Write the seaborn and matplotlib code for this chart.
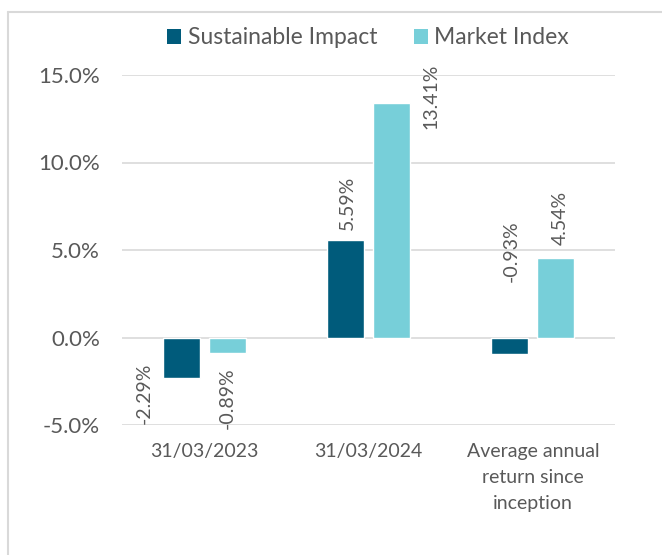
import pandas as pd
import matplotlib
matplotlib.use("Agg")
import matplotlib.pyplot as plt
from matplotlib.lines import Line2D
from matplotlib.patches import Patch
import seaborn as sns

## data
categories = ["31/03/2023", "31/03/2024", "Average annual\nreturn since\ninception"]
sustainable_impact = [-2.29, 5.59, -0.93]
market_index = [-0.89, 13.41, 4.54]
series_names = ["Sustainable Impact", "Market Index"]

## styling
colors = ["#005B7B", "#77CFD9"]
text_gray = "#595959"
grid_gray = "#D9D9D9"
# label offsets (pixels) from the bar end, per series then category
label_offsets = [[(-37, -16), (2, 37), (1, 103)],
                 [(0, -45), (39, 7), (4, 40)]]

sns.set_style("white")
plt.rcParams["font.family"] = ["Lato", "DejaVu Sans"]

df = pd.DataFrame({
    "category": categories * 2,
    "series": [series_names[0]] * 3 + [series_names[1]] * 3,
    "value": sustainable_impact + market_index,
})

fig = plt.figure(figsize=(6.62, 5.55), dpi=100)
ax = fig.add_axes([122 / 662, 1 - 425 / 555, 493 / 662, 350 / 555])

sns.barplot(data=df, x="category", y="value", hue="series", palette=colors,
            width=0.56, gap=0.2, ax=ax, legend=False, saturation=1)

ax.set_ylim(-5, 15)
ax.set_yticks([-5, 0, 5, 10, 15])
ax.set_yticklabels([f"{v:.1f}%" for v in ax.get_yticks()])
ax.yaxis.grid(True, color=grid_gray, linewidth=1.2)
ax.set_axisbelow(True)
for s in ax.spines.values():
    s.set_visible(False)
ax.tick_params(axis="both", length=0, colors=text_gray)
ax.tick_params(axis="y", labelsize=16, pad=16)
ax.tick_params(axis="x", labelsize=14, pad=13)
for lbl in ax.get_xticklabels():
    lbl.set_linespacing(1.65)
    lbl.set_verticalalignment("top")
ax.set_xlabel("")
ax.set_ylabel("")

# rotated data labels
for i, container in enumerate(ax.containers):
    for j, bar in enumerate(container):
        val = bar.get_height()
        xc = bar.get_x() + bar.get_width() / 2
        dx, dy = label_offsets[i][j]
        ax.annotate(f"{val:.2f}%", (xc, val), xytext=(dx, dy),
                    textcoords="offset pixels", rotation=90,
                    ha="center", va="center", color=text_gray, fontsize=14)

# legend
handles = [Patch(facecolor=c, edgecolor="none") for c in colors]
fig.legend(handles, series_names, loc="center", ncol=2, frameon=False,
           bbox_to_anchor=(368 / 662, 1 - 38 / 555), fontsize=16.5,
           labelcolor=text_gray, handlelength=0.6, handleheight=0.6,
           handletextpad=0.3, columnspacing=1.6)

# chart border
fig.add_artist(Line2D([7.5 / 662, 7.5 / 662], [0, 1 - 12 / 555],
                      transform=fig.transFigure, color=grid_gray, linewidth=1.5))
fig.add_artist(Line2D([7.5 / 662, 1], [1 - 12 / 555, 1 - 12 / 555],
                      transform=fig.transFigure, color=grid_gray, linewidth=1.5))

fig.savefig("out.png", dpi=100)
